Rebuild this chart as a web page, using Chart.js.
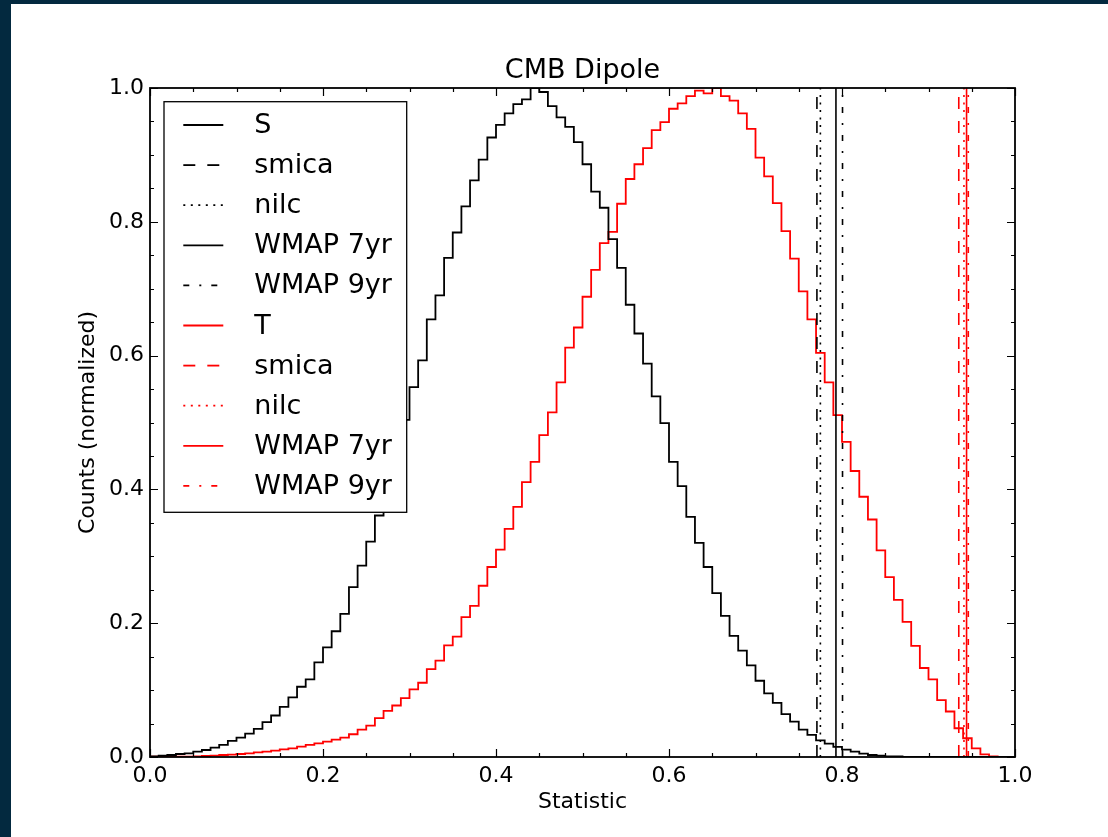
<!DOCTYPE html>
<html>
<head>
<meta charset="utf-8">
<script src="https://cdn.jsdelivr.net/npm/chart.js@4/dist/chart.umd.min.js"></script>
<style>
  html, body { margin: 0; padding: 0; width: 1108px; height: 837px; overflow: hidden; background: #03293f; }
  #wrap { position: absolute; left: 11px; top: 4px; width: 1097px; height: 833px; background: #fff; }
</style>
</head>
<body>
<div id="wrap"><canvas id="myChart"></canvas></div>
<script>
// histogram bins: 100 bins of width 0.01 from 0 to 1
const binWidth = 0.01;

const sCounts = [
  0.001, 0.002, 0.003, 0.0045, 0.0055, 0.008, 0.0105, 0.014, 0.018, 0.024,
  0.029, 0.035, 0.042, 0.052, 0.062, 0.075, 0.089, 0.105, 0.116, 0.1415,
  0.164, 0.188, 0.214, 0.254, 0.286, 0.322, 0.361, 0.405, 0.455, 0.504,
  0.553, 0.593, 0.654, 0.690, 0.746, 0.784, 0.823, 0.862, 0.893, 0.926,
  0.945, 0.962, 0.976, 0.983, 1.0, 0.994, 0.973, 0.956, 0.942, 0.919,
  0.886, 0.845, 0.821, 0.774, 0.731, 0.676, 0.633, 0.588, 0.539, 0.499,
  0.441, 0.405, 0.359, 0.320, 0.284, 0.245, 0.211, 0.181, 0.159, 0.137,
  0.114, 0.095, 0.081, 0.064, 0.053, 0.041, 0.033, 0.025, 0.020, 0.015,
  0.011, 0.008, 0.005, 0.003, 0.002, 0.001, 0.001, 0, 0, 0,
  0, 0, 0, 0, 0, 0, 0, 0, 0, 0
];

const tCounts = [
  0.0005, 0.0005, 0.0005, 0.0005, 0.0005, 0.001, 0.0015, 0.002, 0.003, 0.0035,
  0.0045, 0.0055, 0.007, 0.008, 0.0095, 0.0115, 0.013, 0.0155, 0.018, 0.0205,
  0.023, 0.026, 0.029, 0.034, 0.041, 0.047, 0.058, 0.069, 0.077, 0.088,
  0.101, 0.111, 0.1315, 0.144, 0.167, 0.180, 0.209, 0.226, 0.256, 0.284,
  0.310, 0.341, 0.374, 0.411, 0.441, 0.481, 0.515, 0.560, 0.612, 0.642,
  0.688, 0.728, 0.768, 0.785, 0.827, 0.864, 0.886, 0.910, 0.937, 0.949,
  0.969, 0.977, 0.988, 0.996, 0.992, 1.0, 0.988, 0.981, 0.962, 0.939,
  0.896, 0.868, 0.828, 0.786, 0.745, 0.696, 0.654, 0.604, 0.560, 0.511,
  0.471, 0.4275, 0.389, 0.355, 0.309, 0.269, 0.235, 0.202, 0.166, 0.133,
  0.116, 0.085, 0.068, 0.043, 0.028, 0.013, 0.004, 0.001, 0, 0
];

// map statistics (smica, nilc, WMAP 7yr, WMAP 9yr)
const mapLabels = ['smica', 'nilc', 'WMAP 7yr', 'WMAP 9yr'];
const sMapValues = [0.771, 0.775, 0.793, 0.8006];
const tMapValues = [0.935, 0.941, 0.944, 0.946];

const xTicks = [0, 0.2, 0.4, 0.6, 0.8, 1.0];
const yTicks = [0, 0.2, 0.4, 0.6, 0.8, 1.0];

const dashStyles = [[12, 12], [2, 5.5], [], [6, 10, 2, 10]];

function histPoints(counts) {
  const pts = counts.map((c, i) => ({x: i * binWidth, y: c}));
  pts.push({x: counts.length * binWidth, y: 0});
  return pts;
}

function buildDatasets(name, counts, mapValues, color) {
  const sets = [{
    label: name,
    data: histPoints(counts),
    borderColor: color,
    borderWidth: 1.8,
    stepped: true,
    borderDash: []
  }];
  mapValues.forEach((v, i) => {
    sets.push({
      label: mapLabels[i],
      data: [{x: v, y: 0}, {x: v, y: 1}],
      borderColor: color,
      borderWidth: 1.6,
      borderDash: dashStyles[i]
    });
  });
  return sets;
}

const datasets = buildDatasets('S', sCounts, sMapValues, '#000000')
  .concat(buildDatasets('T', tCounts, tMapValues, '#ff0000'));

const font = "'DejaVu Sans', sans-serif";

// matplotlib-like frame with inward ticks, plus the title over the axes
const framePlugin = {
  id: 'frame',
  afterDatasetsDraw(chart) {
    const {ctx, chartArea: a, scales} = chart;
    ctx.save();
    ctx.strokeStyle = '#000';
    ctx.lineWidth = 1.2;
    ctx.beginPath();
    for (let k = 0; k <= 20; k++) {
      const v = k * 0.05;
      const len = (k % 4 === 0) ? 8 : 4;
      const px = Math.round(scales.x.getPixelForValue(v)) + 0.5;
      ctx.moveTo(px, a.bottom); ctx.lineTo(px, a.bottom - len);
      ctx.moveTo(px, a.top); ctx.lineTo(px, a.top + len);
      const py = Math.round(scales.y.getPixelForValue(v)) + 0.5;
      ctx.moveTo(a.left, py); ctx.lineTo(a.left + len, py);
      ctx.moveTo(a.right, py); ctx.lineTo(a.right - len, py);
    }
    ctx.stroke();
    ctx.lineWidth = 1.8;
    ctx.strokeRect(a.left, a.top, a.right - a.left, a.bottom - a.top);

    ctx.fillStyle = '#000';
    ctx.font = '27px ' + font;
    ctx.textAlign = 'center';
    ctx.textBaseline = 'middle';
    ctx.fillText('CMB Dipole', (a.left + a.right) / 2, a.top - 17);
    ctx.restore();
  }
};

// legend box in upper left of the axes
const legendPlugin = {
  id: 'mplLegend',
  afterDraw(chart) {
    const {ctx, chartArea: a} = chart;
    const bx = a.left + 14, by = a.top + 13.7, bw = 242.7, bh = 410.6;
    ctx.save();
    ctx.fillStyle = '#fff';
    ctx.fillRect(bx, by, bw, bh);
    ctx.strokeStyle = '#000';
    ctx.lineWidth = 1.3;
    ctx.strokeRect(bx, by, bw, bh);
    ctx.font = '27px ' + font;
    ctx.textBaseline = 'middle';
    ctx.textAlign = 'left';
    chart.data.datasets.forEach((ds, i) => {
      const y = by + 23.3 + i * 40.1;
      ctx.beginPath();
      ctx.strokeStyle = ds.borderColor;
      ctx.lineWidth = 1.8;
      ctx.setLineDash(ds.borderDash || []);
      ctx.moveTo(bx + 19.3, y);
      ctx.lineTo(bx + 59.3, y);
      ctx.stroke();
      ctx.setLineDash([]);
      ctx.fillStyle = '#000';
      ctx.fillText(ds.label, bx + 90.3, y + 1);
    });
    ctx.restore();
  }
};

const config = {
  type: 'line',
  data: { datasets: datasets },
  options: {
    responsive: true,
    maintainAspectRatio: false,
    animation: false,
    events: [],
    elements: { point: { radius: 0 }, line: { tension: 0, borderCapStyle: 'butt' } },
    layout: { padding: { left: 0, right: 93, top: 84, bottom: 0 } },
    plugins: {
      legend: { display: false },
      tooltip: { enabled: false },
      title: { display: false }
    },
    scales: {
      x: {
        type: 'linear',
        min: 0,
        max: 1,
        afterFit(scale) { scale.height = 80; },
        afterBuildTicks(scale) { scale.ticks = xTicks.map(v => ({value: v})); },
        grid: { display: false, drawTicks: false },
        border: { display: false },
        ticks: {
          color: '#000',
          font: { family: font, size: 22 },
          padding: 6,
          maxRotation: 0,
          callback: v => v.toFixed(1)
        },
        title: {
          display: true,
          text: 'Statistic',
          color: '#000',
          font: { family: font, size: 22 },
          padding: { top: 0, bottom: 21.8 }
        }
      },
      y: {
        type: 'linear',
        min: 0,
        max: 1,
        afterFit(scale) { scale.width = 139; },
        afterBuildTicks(scale) { scale.ticks = yTicks.map(v => ({value: v})); },
        grid: { display: false, drawTicks: false },
        border: { display: false },
        ticks: {
          color: '#000',
          font: { family: font, size: 22 },
          padding: 6,
          callback: v => v.toFixed(1)
        },
        title: {
          display: true,
          text: 'Counts (normalized)',
          color: '#000',
          font: { family: font, size: 22 },
          padding: { top: 63.8, bottom: 0 }
        }
      }
    }
  },
  plugins: [framePlugin, legendPlugin]
};

const myChart = new Chart(document.getElementById('myChart'), config);
</script>
</body>
</html>
